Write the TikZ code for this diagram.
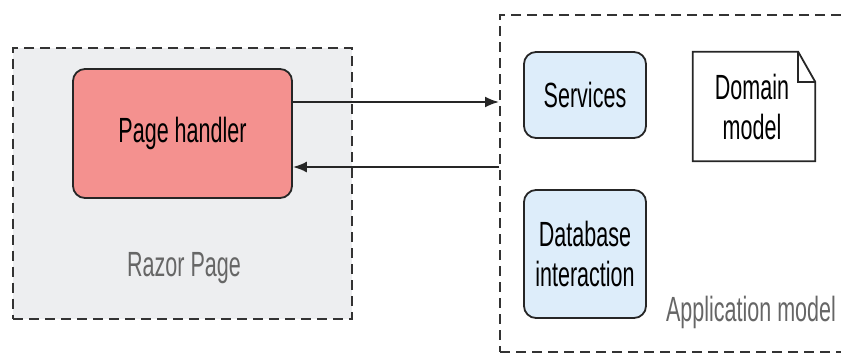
\documentclass[tikz,border=0pt]{standalone}
\usepackage{fontspec}
\setmainfont{Liberation Sans}[FakeStretch=0.615]
\usepackage{xcolor}
\usepackage{tikz}
\usetikzlibrary{arrows.meta, positioning}

\definecolor{razorgray}{HTML}{EDEEF0}
\definecolor{handlerred}{HTML}{F4918F}
\definecolor{svcblue}{HTML}{DDEDFA}
\definecolor{lblgray}{HTML}{666666}

\begin{document}
\begin{tikzpicture}[
  x=1pt, y=-1pt,
  font=\fontsize{35}{40}\selectfont,
  framenode/.style = {draw=black!80, dashed, dash pattern=on 10pt off 6pt,
                      line width=2pt, inner sep=0pt},
  pagenode/.style  = {draw=black!85, fill=handlerred, rounded corners=12pt,
                      minimum width=219pt, minimum height=129pt, line width=1.8pt},
  svcnode/.style   = {draw=black!85, fill=svcblue, rounded corners=12pt,
                      minimum width=122pt, line width=1.8pt, align=center},
  notenode/.style  = {minimum width=122pt, minimum height=109pt, align=center},
  lbl/.style       = {text=lblgray},
  farr/.style      = {-{Latex[length=14pt,width=11pt]}, line width=2pt, black!85},
]
\useasboundingbox (0,0) rectangle (841,354);
\clip (0,0) rectangle (841,354);

%% -- Frames ---------------------------------------------------------
\node[framenode, fill=razorgray, minimum width=339pt, minimum height=271pt]
  (razor) at (182.5,183) {};
\node[framenode, minimum width=370pt, minimum height=337pt]
  (app) at (685,183.5) {};

%% -- Razor Page -----------------------------------------------------
\node[pagenode] (handler) at (182.5,133.5) {Page handler};
\node[lbl] (razorlbl) at (184,268) {Razor Page};

%% -- Application model ---------------------------------------------
\node[svcnode, minimum height=86pt]  (services) at (585,95)  {Services};
\node[svcnode, minimum height=128pt] (dbase)    at (585,254) {Database\\interaction};
\node[notenode] (domain) at (752,106.5) {Domain\\model};
\draw[black!85, line width=1.8pt]
  ([xshift=2pt]domain.north west) -- ([xshift=-15pt]domain.north east)
  -- ([xshift=2pt,yshift=-30pt]domain.north east) -- ([xshift=2pt]domain.south east)
  -- ([xshift=2pt]domain.south west) -- cycle;
\draw[black!85, line width=1.5pt]
  ([xshift=-15pt]domain.north east) |- ([xshift=2pt,yshift=-30pt]domain.north east);
\node[lbl] (applbl) at (751,312) {Application model};

%% -- Request / response ---------------------------------------------
\coordinate (req)  at ([yshift=31.5pt]handler.east);
\coordinate (resp) at ([yshift=-33.5pt]handler.east);
\draw[farr] (req) -- (req -| app.west);
\draw[farr] (resp -| app.west) -- (resp);

\end{tikzpicture}
\end{document}
